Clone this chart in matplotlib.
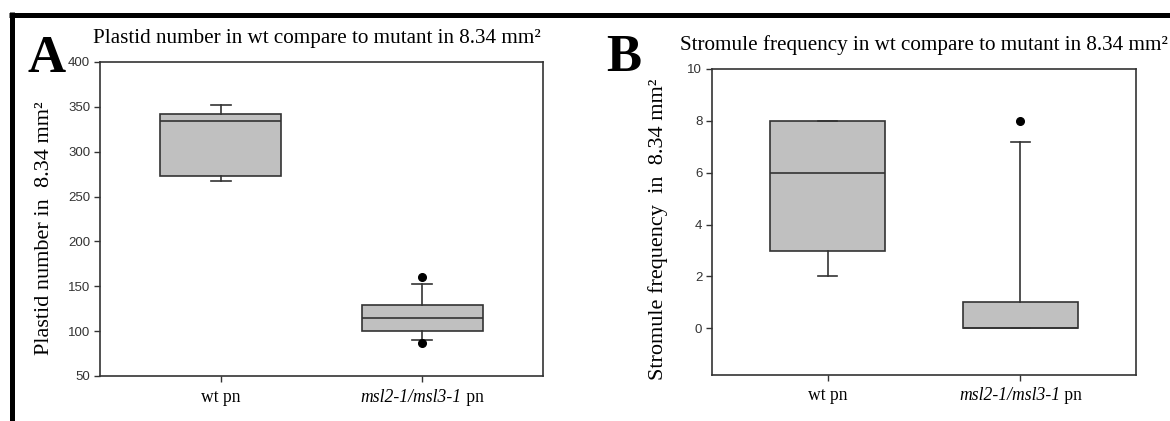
import matplotlib
matplotlib.use("Agg")
import matplotlib.pyplot as plt
from matplotlib.lines import Line2D

# data
groups = ['wt pn', 'msl2-1/msl3-1 pn']
mutant_italic = 'msl2-1/msl3-1'

plastid_q1 = [273, 100]
plastid_med = [334, 115]
plastid_q3 = [342, 129]
plastid_lo = [267, 90]
plastid_hi = [352, 153]
plastid_out = [[], [160, 87]]

stromule_q1 = [3, 0]
stromule_med = [6, 0]
stromule_q3 = [8, 1]
stromule_lo = [2, 0]
stromule_hi = [8, 7.2]
stromule_out = [[], [8]]

W, H = 1170, 421
EDGE = '#333333'
BOX = '#c0c0c0'
SERIF = 'Liberation Serif'
TICK_LEN, XPAD = 4, 5  # points


def make_stats(q1, med, q3, lo, hi, out):
    return [dict(q1=a, med=b, q3=c, whislo=d, whishi=e, fliers=f)
            for a, b, c, d, e, f in zip(q1, med, q3, lo, hi, out)]


def draw_box(ax, stats, ylim, yticks, ylabel):
    ax.bxp(stats, positions=[1, 2], widths=0.6, capwidths=0.1,
           patch_artist=True, showfliers=True,
           boxprops=dict(facecolor=BOX, edgecolor=EDGE, linewidth=1.2),
           medianprops=dict(color=EDGE, linewidth=1.2),
           whiskerprops=dict(color=EDGE, linewidth=1.2),
           capprops=dict(color=EDGE, linewidth=1.2),
           flierprops=dict(marker='o', markerfacecolor='black',
                           markeredgecolor='black', markersize=5.5))
    ax.set_xlim(0.4, 2.6)
    ax.set_ylim(*ylim)
    ax.set_yticks(yticks)
    ax.set_xticks([1, 2])
    # second label is drawn by hand so that only the gene part is italic
    ax.set_xticklabels([groups[0], ''], fontfamily=SERIF, fontsize=12.7)
    for lab in ax.get_yticklabels():
        lab.set_fontfamily('Liberation Sans')
        lab.set_fontsize(9.5)
        lab.set_color('#333333')
    ax.tick_params(axis='y', direction='out', length=TICK_LEN, width=1, color=EDGE, pad=3)
    ax.tick_params(axis='x', direction='out', length=TICK_LEN, width=1, color=EDGE, pad=XPAD)
    for s in ax.spines.values():
        s.set_color(EDGE)
        s.set_linewidth(1.2)
    ax.set_ylabel(ylabel, fontfamily=SERIF, fontsize=16)


def mutant_label(ax):
    rest = groups[1][len(mutant_italic):]
    dy = -(TICK_LEN + XPAD)
    t1 = ax.annotate(mutant_italic, xy=(2, 0), xycoords=('data', 'axes fraction'),
                     xytext=(0, dy), textcoords='offset points',
                     ha='center', va='top', fontfamily=SERIF, fontsize=12.7,
                     fontstyle='italic')
    t2 = ax.annotate(rest, xy=(1, 0), xycoords=t1, ha='left', va='bottom',
                     fontfamily=SERIF, fontsize=12.7)
    r = fig.canvas.get_renderer()
    w2 = t2.get_window_extent(r).width * 72 / fig.dpi
    t1.set_position((-w2 / 2, dy))


fig = plt.figure(figsize=(W / 100, H / 100), dpi=100)

axA = fig.add_axes([100 / W, 1 - 376 / H, 443 / W, 314 / H])
draw_box(axA, make_stats(plastid_q1, plastid_med, plastid_q3, plastid_lo, plastid_hi, plastid_out),
         (50, 400), range(50, 401, 50), 'Plastid number in  8.34 mm²')
axA.yaxis.set_label_coords(-0.104, 0.47)
mutant_label(axA)

axB = fig.add_axes([712 / W, 1 - 375 / H, 424 / W, 306 / H])
draw_box(axB, make_stats(stromule_q1, stromule_med, stromule_q3, stromule_lo, stromule_hi, stromule_out),
         (-1.8, 10), range(0, 11, 2), 'Stromule frequency  in  8.34 mm²')
axB.yaxis.set_label_coords(-0.104, 0.475)
mutant_label(axB)

# panel letters and titles
fig.text(27 / W, 1 - 72 / H, 'A', fontfamily=SERIF, fontweight='bold',
         fontsize=38, va='baseline', ha='left')
fig.text(606 / W, 1 - 71 / H, 'B', fontfamily=SERIF, fontweight='bold',
         fontsize=38, va='baseline', ha='left')
fig.text(93 / W, 1 - 43 / H, 'Plastid number in wt compare to mutant in 8.34 mm²',
         fontfamily=SERIF, fontsize=15.2, va='baseline', ha='left')
fig.text(680 / W, 1 - 50 / H, 'Stromule frequency in wt compare to mutant in 8.34 mm²',
         fontfamily=SERIF, fontsize=15.2, va='baseline', ha='left')

# thick black frame (top and left edges visible)
fig.add_artist(Line2D([9 / W, 1.0], [1 - 14.5 / H, 1 - 14.5 / H],
                      transform=fig.transFigure, color='black', linewidth=3.6,
                      solid_capstyle='butt'))
fig.add_artist(Line2D([11.5 / W, 11.5 / W], [1 - 12 / H, 0.0],
                      transform=fig.transFigure, color='black', linewidth=3.6,
                      solid_capstyle='butt'))

fig.savefig('out.png', dpi=100)
